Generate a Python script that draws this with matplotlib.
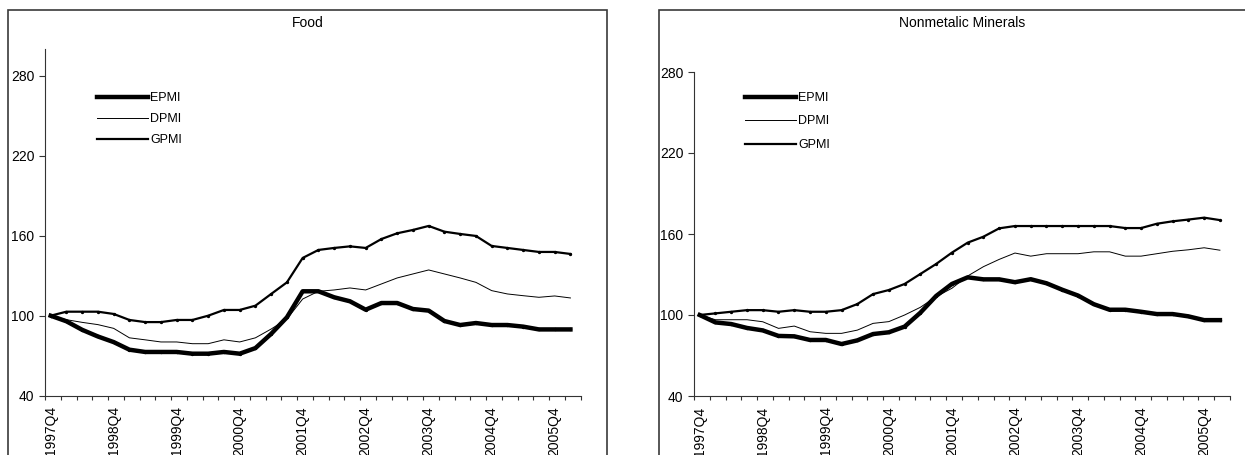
import numpy as np
import matplotlib.pyplot as plt
from matplotlib.patches import Rectangle
from matplotlib.lines import Line2D

plt.rcParams['font.family'] = ['Liberation Sans', 'DejaVu Sans']

W, H = 1245, 455

# quarterly categories 1997Q4 .. 2006Q1
quarters = ["1997Q4"] + [f"{y}Q{q}" for y in range(1998, 2006) for q in range(1, 5)] + ["2006Q1"]

food_epm = [100, 95.8, 89.4, 84.4, 80.2, 74.5, 72.8, 72.8, 72.8, 71.5,
            71.5, 72.8, 71.5, 75.7, 86.4, 98.8, 118.3, 118.3, 113.8, 110.8,
            104.5, 109.5, 109.5, 105, 103.8, 96, 93, 94.5, 93, 93,
            91.8, 89.7, 89.7, 89.7]
food_dpm = [100, 97, 95, 93.3, 90.5, 83.4, 81.9, 80.3, 80.3, 79,
            79, 81.9, 80.3, 83.4, 90, 97.5, 112.5, 118.3, 119.3, 120.8,
            119.3, 123.8, 128.3, 131.3, 134.3, 131.3, 128.3, 125, 118.8, 116.3,
            115, 113.8, 114.8, 113.3]
food_gpm = [100, 103, 103, 103, 101.3, 96.8, 95.2, 95.2, 96.8, 96.8,
            100, 104.3, 104.3, 107.5, 116.3, 125, 143.3, 149.3, 150.8, 152,
            150.8, 157.5, 161.8, 164.3, 167.3, 163, 161.3, 159.8, 152.3, 150.8,
            149.3, 147.8, 147.8, 146.3]

nm_epm = [100, 94.5, 93.3, 90.4, 88.6, 84.5, 84.2, 81.5, 81.5, 78.5,
          81.2, 85.9, 87.2, 91.4, 101.7, 114.1, 123, 127.9, 126.4, 126.4,
          124.3, 126.5, 123.5, 118.7, 114.4, 108, 103.9, 103.9, 102.4, 100.7,
          100.7, 99, 96.2, 96.2]
nm_dpm = [100, 96.5, 96.5, 96.5, 95, 90.1, 91.8, 87.6, 86.4, 86.4,
          88.8, 93.8, 95.1, 100, 105.7, 113.6, 119.8, 128.9, 135.8, 141.2,
          145.9, 143.6, 145.4, 145.4, 145.4, 146.8, 146.8, 143.6, 143.6, 145.4,
          147.2, 148.3, 149.8, 148]
nm_gpm = [100, 101.2, 102.4, 103.6, 103.6, 102.4, 103.6, 102.4, 102.4, 103.6,
          108.1, 115.5, 118.5, 123, 130.4, 137.8, 146.2, 153.6, 158, 164.2,
          165.9, 165.9, 165.9, 165.9, 165.9, 165.9, 165.9, 164.4, 164.4, 167.6,
          169.4, 170.7, 172.1, 170.3]

series_names = ["EPMI", "DPMI", "GPMI"]
widths = [3.2, 0.7, 1.6]

fig = plt.figure(figsize=(W / 100, H / 100), dpi=100)

# outer chart frames (cut by the image edge)
for x0, x1 in [(8, 607), (659, 1300)]:
    fig.patches.append(Rectangle((x0 / W, -0.2), (x1 - x0) / W, 1.2 - 10 / H,
                                 transform=fig.transFigure, fill=False,
                                 edgecolor="#3a3a3a", lw=1.2))

panels = [
    dict(title="Food", tx=308, rect=(45, 49, 580.5, 395.7), ymax=300,
         data=(food_epm, food_dpm, food_gpm), leg=(97, 92), lsp=0.73),
    dict(title="Nonmetalic Minerals", tx=962, rect=(694, 72, 1230, 396), ymax=280,
         data=(nm_epm, nm_dpm, nm_gpm), leg=(745, 92), lsp=0.92),
]

x = np.arange(len(quarters))
for p in panels:
    l, t, r, b = p["rect"]
    ax = fig.add_axes([l / W, 1 - b / H, (r - l) / W, (b - t) / H])
    epm, dpm, gpm = p["data"]
    ax.plot(x, epm, color="black", lw=widths[0], marker="o", ms=1.4)
    ax.plot(x, dpm, color="black", lw=widths[1])
    ax.plot(x, gpm, color="black", lw=widths[2], marker="o", ms=1.4)

    ax.set_xlim(-0.36, len(quarters) - 0.36)
    ax.set_ylim(40, p["ymax"])
    ax.set_yticks([40, 100, 160, 220, 280])
    ax.set_xticks(x[::4])
    ax.set_xticklabels(quarters[::4], rotation=90)
    ax.set_xticks(np.arange(len(quarters) + 1) - 0.36, minor=True)
    ax.tick_params(axis="x", which="major", length=0, pad=7.5, labelsize=10)
    ax.tick_params(axis="x", which="minor", direction="out", length=3, width=0.8, color="#333333")
    ax.tick_params(axis="y", direction="out", length=4.3, width=0.8, pad=3.2,
                   labelsize=10, color="#333333")
    for s in ["top", "right"]:
        ax.spines[s].set_visible(False)
    for s in ["left", "bottom"]:
        ax.spines[s].set_color("#333333")
        ax.spines[s].set_linewidth(0.8)
    ax.patch.set_alpha(0)

    handles = [Line2D([], [], color="black", lw=w) for w in widths]
    ax.legend(handles, series_names, loc="upper left",
              bbox_to_anchor=(p["leg"][0] / W, 1 - p["leg"][1] / H),
              bbox_transform=fig.transFigure, frameon=False, fontsize=9,
              borderpad=0, borderaxespad=0, handlelength=4.1, handletextpad=0.15,
              labelspacing=p["lsp"])

    fig.text(p["tx"] / W, 1 - 23 / H, p["title"], ha="center", va="center", fontsize=10)

fig.savefig("out.png", dpi=100)
